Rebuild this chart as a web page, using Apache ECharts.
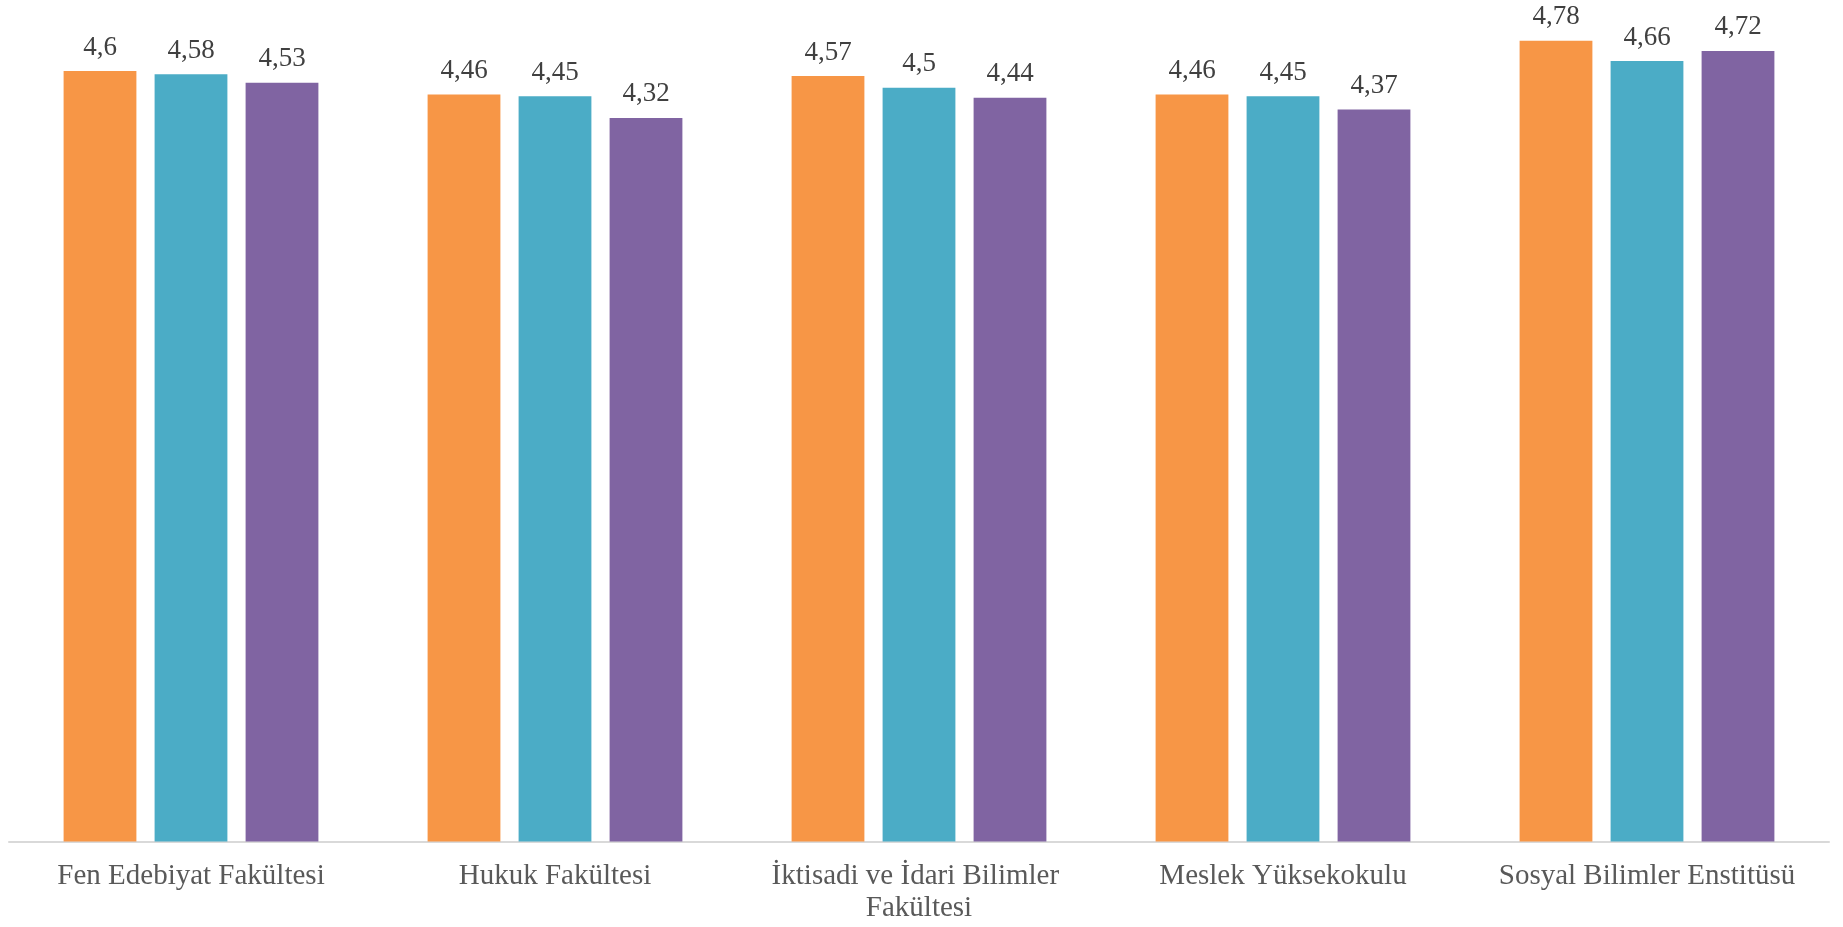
<!DOCTYPE html>
<html>
<head>
<meta charset="utf-8">
<script src="https://cdn.jsdelivr.net/npm/echarts@6/dist/echarts.min.js"></script>
<style>
html,body{margin:0;padding:0;background:#fff;}
#chart{width:1843px;height:927px;}
</style>
</head>
<body>
<div id="chart"></div>
<script>
const categories = ["Fen Edebiyat Fakültesi", "Hukuk Fakültesi", "İktisadi ve İdari Bilimler Fakültesi", "Meslek Yüksekokulu", "Sosyal Bilimler Enstitüsü"];
const series1 = [4.6, 4.46, 4.57, 4.46, 4.78];
const series2 = [4.58, 4.45, 4.5, 4.45, 4.66];
const series3 = [4.53, 4.32, 4.44, 4.37, 4.72];
const colors = ["#F79646", "#4BACC6", "#8064A2"];

const chart = echarts.init(document.getElementById('chart'));
const fontFamily = '"Liberation Serif", "Times New Roman", serif';
function mk(name, data, color) {
  return {
    name: name,
    type: 'bar',
    data: data,
    barWidth: '20%',
    barGap: '25%',
    itemStyle: { color: color },
    label: {
      show: true,
      position: 'top',
      distance: 10,
      color: '#404040',
      fontFamily: fontFamily,
      fontSize: 27,
      formatter: p => String(p.value).replace('.', ',')
    }
  };
}
chart.setOption({
  animation: false,
  grid: { left: 9, right: 14, top: 4, bottom: 85.5, containLabel: false },
  xAxis: {
    type: 'category',
    data: categories,
    axisLine: { show: true, lineStyle: { color: '#d9d9d9', width: 2 } },
    axisTick: { show: false },
    axisLabel: {
      interval: 0,
      color: '#595959',
      fontFamily: fontFamily,
      fontSize: 29,
      lineHeight: 32,
      margin: 19,
      width: 345,
      overflow: 'break'
    }
  },
  yAxis: {
    type: 'value',
    min: 0,
    max: 5,
    show: false,
    splitLine: { show: false }
  },
  series: [
    mk('Seri 1', series1, colors[0]),
    mk('Seri 2', series2, colors[1]),
    mk('Seri 3', series3, colors[2])
  ]
});
</script>
</body>
</html>
